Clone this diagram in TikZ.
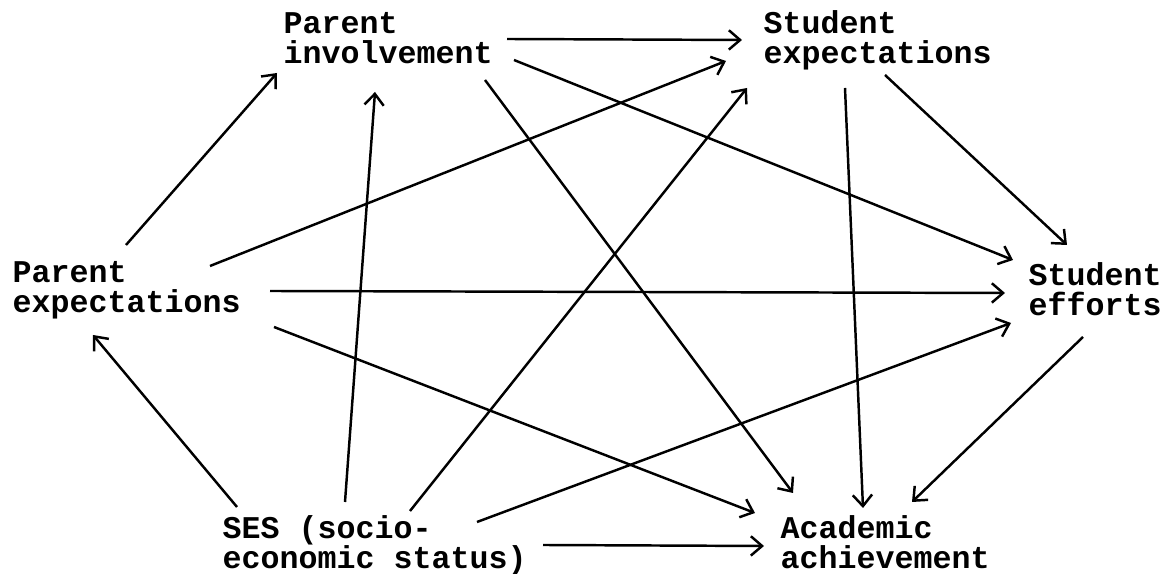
\documentclass[tikz,border=0pt]{standalone}
\usepackage{fontspec}
\newfontfamily\typewriter{Liberation Mono}
\usetikzlibrary{arrows.meta}
\begin{document}
\begin{tikzpicture}[x=0.01cm, y=-0.01cm,
  box/.style={anchor=base west, inner sep=0pt, align=left,
    font=\typewriter\bfseries\fontsize{9pt}{8.8pt}\selectfont},
  link/.style={draw, line width=0.7pt, -{Straight Barb[length=3.2pt,width=5.5pt]}}]
  \useasboundingbox (0,0) rectangle (1163,574);
  \node[box] (pinv) at (283,64) {Parent\\involvement};
  \node[box] (sexp) at (763,64) {Student\\expectations};
  \node[box] (pexp) at (12,313) {Parent\\expectations};
  \node[box] (seff) at (1028,316) {Student\\efforts};
  \node[box] (ses) at (222,569) {SES (socio-\\economic status)};
  \node[box] (ach) at (780,569) {Academic\\achievement};
  % from parent expectations
  \draw[link] ([shift={(114,-68)}]pexp.base west) -- ([shift={(-6,9)}]pinv.base west);
  \draw[link] ([shift={(198,-47)}]pexp.base west) -- ([shift={(-37,-3)}]sexp.base west);
  \draw[link] ([shift={(258,-22)}]pexp.base west) -- ([shift={(-23,-23)}]seff.base west);
  \draw[link] ([shift={(262,14)}]pexp.base west) -- ([shift={(-25,-56)}]ach.base west);
  % from parent involvement
  \draw[link] ([shift={(224,-25)}]pinv.base west) -- ([shift={(-21,-24)}]sexp.base west);
  \draw[link] ([shift={(231,-4)}]pinv.base west) -- ([shift={(-15,-56)}]seff.base west);
  \draw[link] ([shift={(202,16)}]pinv.base west) -- ([shift={(13,-76)}]ach.base west);
  % from student expectations
  \draw[link] ([shift={(82,24)}]sexp.base west) -- ([shift={(83,-61)}]ach.base west);
  \draw[link] ([shift={(122,11)}]sexp.base west) -- ([shift={(39,-71)}]seff.base west);
  % from ses
  \draw[link] ([shift={(15,-62)}]ses.base west) -- ([shift={(81,22)}]pexp.base west);
  \draw[link] ([shift={(123,-67)}]ses.base west) -- ([shift={(92,28)}]pinv.base west);
  \draw[link] ([shift={(188,-58)}]ses.base west) -- ([shift={(-16,24)}]sexp.base west);
  \draw[link] ([shift={(255,-47)}]ses.base west) -- ([shift={(-17,7)}]seff.base west);
  \draw[link] ([shift={(321,-24)}]ses.base west) -- ([shift={(-16,-23)}]ach.base west);
  % from student efforts
  \draw[link] ([shift={(55,21)}]seff.base west) -- ([shift={(132,-67)}]ach.base west);
\end{tikzpicture}
\end{document}
